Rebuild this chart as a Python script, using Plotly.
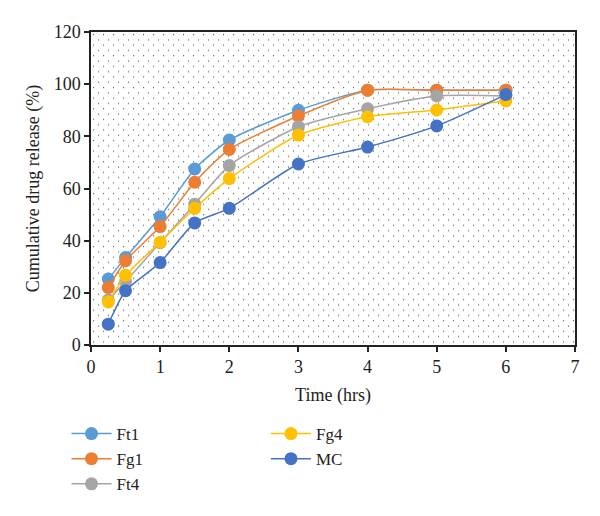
import base64
import plotly.graph_objects as go

time_hrs = [0.25, 0.5, 1, 1.5, 2, 3, 4, 5, 6]
ft1 = [25.3, 33.5, 49.2, 67.5, 78.6, 90.0, 97.7, 97.7, 97.7]
fg1 = [22.0, 32.3, 45.4, 62.4, 75.0, 87.8, 97.7, 97.7, 97.7]
ft4 = [17.3, 24.3, 39.2, 54.0, 68.8, 83.7, 90.6, 95.5, 95.5]
fg4 = [16.5, 26.7, 39.4, 52.4, 63.8, 80.5, 87.5, 90.1, 93.6]
mc = [8.0, 20.8, 31.6, 46.8, 52.4, 69.4, 75.9, 84.0, 96.0]

series_names = ["Ft1", "Fg1", "Ft4", "Fg4", "MC"]
series_values = [ft1, fg1, ft4, fg4, mc]
series_colors = ["#5B9BD5", "#ED7D31", "#A5A5A5", "#FFC000", "#4472C4"]
series_legend = ["legend", "legend", "legend", "legend2", "legend2"]

FONT = "Liberation Serif"
FS = 18

fig = go.Figure()
for name, vals, col, lg in zip(series_names, series_values, series_colors, series_legend):
    fig.add_trace(go.Scatter(
        x=time_hrs, y=vals, name=name, mode="lines+markers",
        line=dict(color=col, width=1.5, shape="spline", smoothing=0.6),
        marker=dict(color=col, size=13),
        legend=lg,
    ))

svg = ('<svg xmlns="http://www.w3.org/2000/svg" width="484" height="313">'
       '<defs><pattern id="p" width="10" height="10.6" patternUnits="userSpaceOnUse">'
       '<rect x="2" y="2" width="1.1" height="1.1" fill="#555"/>'
       '<rect x="7" y="7.3" width="1.1" height="1.1" fill="#555"/>'
       '</pattern></defs><rect width="100%" height="100%" fill="url(#p)"/></svg>')
src = "data:image/svg+xml;base64," + base64.b64encode(svg.encode()).decode()

fig.update_layout(
    width=592, height=508,
    margin=dict(l=83, r=25, t=24, b=171),
    paper_bgcolor="white", plot_bgcolor="white",
    font=dict(family=FONT, size=FS, color="#222"),
    showlegend=True,
    images=[dict(source=src, xref="paper", yref="paper", x=0, y=1,
                 sizex=1, sizey=1, sizing="stretch", layer="below",
                 xanchor="left", yanchor="top")],
    xaxis=dict(
        range=[0, 7], dtick=1, tick0=0,
        showgrid=False, zeroline=False,
        showline=True, linecolor="#222", linewidth=1.5, mirror=True,
        ticks="outside", ticklen=5, tickcolor="#222", tickwidth=1.5,
        tickfont=dict(family=FONT, size=FS, color="#222"),
        title=dict(text="Time (hrs)", font=dict(family=FONT, size=FS, color="#222"), standoff=12),
    ),
    yaxis=dict(
        range=[0, 120], dtick=20, tick0=0,
        showgrid=False, zeroline=False,
        showline=True, linecolor="#222", linewidth=1.5, mirror=True,
        ticks="outside", ticklen=5, tickcolor="#222", tickwidth=1.5,
        tickfont=dict(family=FONT, size=FS, color="#222"),
        title=dict(text="Cumulative drug release (%)", font=dict(family=FONT, size=FS, color="#222"), standoff=9),
    ),
    legend=dict(
        x=-0.0506, y=-0.227, xanchor="left", yanchor="top", orientation="v",
        font=dict(family=FONT, size=17, color="#222"), bgcolor="rgba(0,0,0,0)",
        tracegroupgap=0, itemwidth=40,
    ),
    legend2=dict(
        x=0.3615, y=-0.227, xanchor="left", yanchor="top", orientation="v",
        font=dict(family=FONT, size=17, color="#222"), bgcolor="rgba(0,0,0,0)",
        tracegroupgap=0, itemwidth=40,
    ),
)

fig.write_html("out.html")
